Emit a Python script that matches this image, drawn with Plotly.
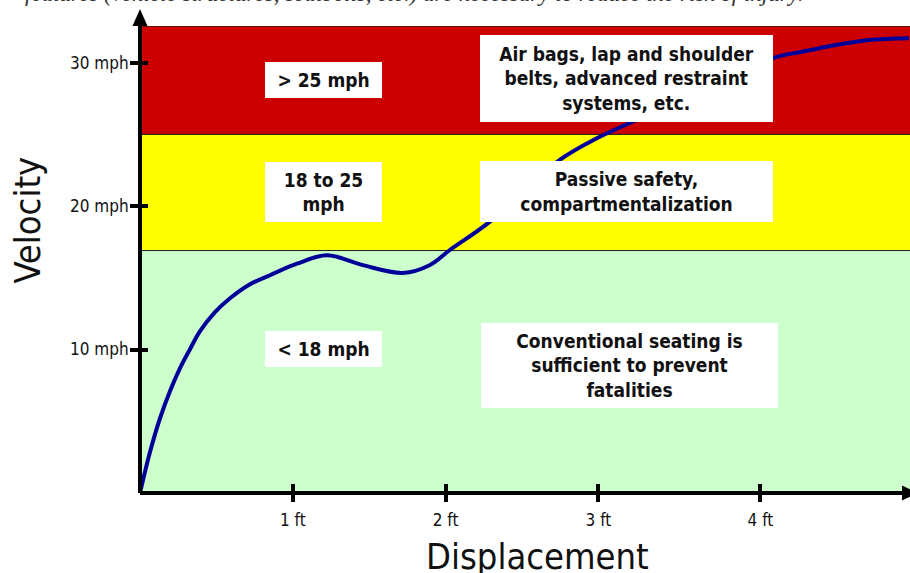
import plotly.graph_objects as go

# ---------------- data ----------------
disp_ft = [0, 0.065, 0.131, 0.196, 0.262, 0.327, 0.393, 0.491, 0.589, 0.720,
           0.851, 1.027, 1.224, 1.459, 1.721, 1.895, 2.026, 2.288, 2.745,
           2.993, 3.224, 3.660, 4.139, 4.335, 4.554, 4.771, 5.033]
velocity_mph = [0, 2.84, 5.21, 7.09, 8.70, 10.02, 11.28, 12.60, 13.57, 14.55,
                15.18, 15.98, 16.57, 15.88, 15.34, 15.88, 16.92, 18.90, 23.20,
                24.74, 25.88, 27.9, 30.30, 30.76, 31.23, 31.58, 31.70]

zone_lower = [0, 16.9, 25]
zone_upper = [16.9, 25, 32.55]
zone_colors = ["#CCFFCC", "#FFFF00", "#CC0000"]
zone_speed_labels = ["< 18 mph", "18 to 25<br>mph", "> 25 mph"]
zone_measures = ["Conventional seating is<br>sufficient to prevent<br>fatalities",
                 "Passive safety,<br>compartmentalization",
                 "Air bags, lap and shoulder<br>belts, advanced restraint<br>systems, etc."]

x_tick_vals = [1, 2, 3, 4.06]
x_tick_labels = ["1 ft", "2 ft", "3 ft", "4 ft"]
y_tick_vals = [10, 20, 30]
y_tick_labels = ["10 mph", "20 mph", "30 mph"]

caption = "features (vehicle structures, seatbelts, etc.) are necessary to reduce the risk of injury."

# ---------------- layout constants ----------------
W, H = 910, 573
ML, MR, MT, MB = 140, 0, 26, 80
PW, PH = W - ML - MR, H - MT - MB
X_MAX = PW / 152.8
Y_MAX = zone_upper[-1]

SANS = "DejaVu Sans Condensed, DejaVu Sans, sans-serif"

fig = go.Figure()

fig.add_trace(go.Scatter(
    x=disp_ft, y=velocity_mph, mode="lines",
    line=dict(color="#000099", width=4, shape="spline", smoothing=1.0),
    showlegend=False, hoverinfo="skip"))
# dummy trace so overlay axes (inside tick halves) get drawn
fig.add_trace(go.Scatter(x=[None], y=[None], xaxis="x2", yaxis="y2",
                         showlegend=False, hoverinfo="skip"))

shapes = []
for lo, hi, col in zip(zone_lower, zone_upper, zone_colors):
    shapes.append(dict(type="rect", xref="paper", yref="y", x0=0, x1=1.01,
                       y0=lo, y1=hi, fillcolor=col,
                       line=dict(color="#222222", width=1), layer="below"))

# axis lines with arrowheads
ax_col = "black"
shapes.append(dict(type="line", xref="paper", yref="paper", x0=0, x1=0, y0=0, y1=1,
                   line=dict(color=ax_col, width=4), layer="above"))
shapes.append(dict(type="line", xref="paper", yref="paper", x0=0, x1=(903 - ML) / PW,
                   y0=0, y1=0, line=dict(color=ax_col, width=4), layer="above"))
hx = 7.5 / PW
hy = 7.5 / PH
tip_y = 1 + 17 / PH
shapes.append(dict(type="path", xref="paper", yref="paper",
                   path=f"M {-hx},1 L {hx},1 L 0,{tip_y} Z",
                   fillcolor=ax_col, line=dict(color=ax_col, width=0), layer="above"))
bx = (902 - ML) / PW
tx = (918 - ML) / PW
shapes.append(dict(type="path", xref="paper", yref="paper",
                   path=f"M {bx},{-hy} L {bx},{hy} L {tx},0 Z",
                   fillcolor=ax_col, line=dict(color=ax_col, width=0), layer="above"))

box_font = dict(family=SANS, size=19, color="#111111", weight="bold")

annotations = []
small_box = [(1.20, 10.03, 117, 36), (1.20, 20.99, 117, 60), (1.20, 28.79, 117, 36)]
big_box = [(3.201, 8.90, 297, 85), (3.186, 21.02, 293, 61), (3.186, 28.90, 293, 87)]
for txt, (bxp, byp, bw, bh) in zip(zone_speed_labels, small_box):
    annotations.append(dict(x=bxp, y=byp, xref="x", yref="y", text=txt, showarrow=False,
                            width=bw, height=bh, bgcolor="white", borderpad=0,
                            borderwidth=0, font=box_font, align="center", valign="middle"))
for txt, (bxp, byp, bw, bh) in zip(zone_measures, big_box):
    annotations.append(dict(x=bxp, y=byp, xref="x", yref="y", text=txt, showarrow=False,
                            width=bw, height=bh, bgcolor="white", borderpad=0,
                            borderwidth=0, font=box_font, align="center", valign="middle"))

# axis titles
annotations.append(dict(text="Displacement", xref="paper", yref="paper",
                        x=(537.5 - ML) / PW, y=0, yshift=-(556 - (H - MB)),
                        xanchor="center", yanchor="middle", showarrow=False,
                        font=dict(family=SANS, size=36, color="#111111")))
annotations.append(dict(text="Velocity", xref="paper", yref="paper",
                        x=0, xshift=-(ML - 27), y=(H - MB - 220.5) / PH,
                        xanchor="center", yanchor="middle", textangle=-90, showarrow=False,
                        font=dict(family=SANS, size=36, color="#111111")))
# cut-off caption at the very top
annotations.append(dict(text=caption,
                        xref="paper", yref="paper", x=(805 - ML) / PW, y=1, yshift=18,
                        xanchor="right", yanchor="bottom", showarrow=False,
                        font=dict(family="Liberation Serif, serif", size=23,
                                  color="#333333", style="italic")))

tick_font = dict(family=SANS, size=17, color="#111111")

fig.update_layout(
    width=W, height=H,
    margin=dict(l=ML, r=MR, t=MT, b=MB, pad=0),
    paper_bgcolor="white", plot_bgcolor="white",
    showlegend=False, hovermode=False,
    shapes=shapes, annotations=annotations,
    xaxis=dict(range=[0, X_MAX], tickvals=x_tick_vals, ticktext=x_tick_labels,
               ticks="outside", ticklen=8, tickwidth=4, tickcolor="black",
               showgrid=False, zeroline=False, showline=False,
               tickfont=tick_font, ticklabelstandoff=4, fixedrange=True),
    yaxis=dict(range=[0, Y_MAX], tickvals=y_tick_vals, ticktext=y_tick_labels,
               ticks="outside", ticklen=9, tickwidth=4, tickcolor="black",
               showgrid=False, zeroline=False, showline=False,
               tickfont=tick_font, ticklabelstandoff=-2, fixedrange=True),
    xaxis2=dict(overlaying="x", matches="x", anchor="y2", side="bottom",
                tickvals=x_tick_vals, ticks="inside", ticklen=9, tickwidth=4,
                tickcolor="black", showticklabels=False, showgrid=False,
                zeroline=False, showline=False, fixedrange=True),
    yaxis2=dict(overlaying="y", matches="y", anchor="x2", side="left",
                tickvals=y_tick_vals, ticks="inside", ticklen=8, tickwidth=4,
                tickcolor="black", showticklabels=False, showgrid=False,
                zeroline=False, showline=False, fixedrange=True),
)

fig.write_html("out.html", config={"displayModeBar": False},
               post_script="document.body.style.margin='0';document.body.style.overflow='hidden';")
